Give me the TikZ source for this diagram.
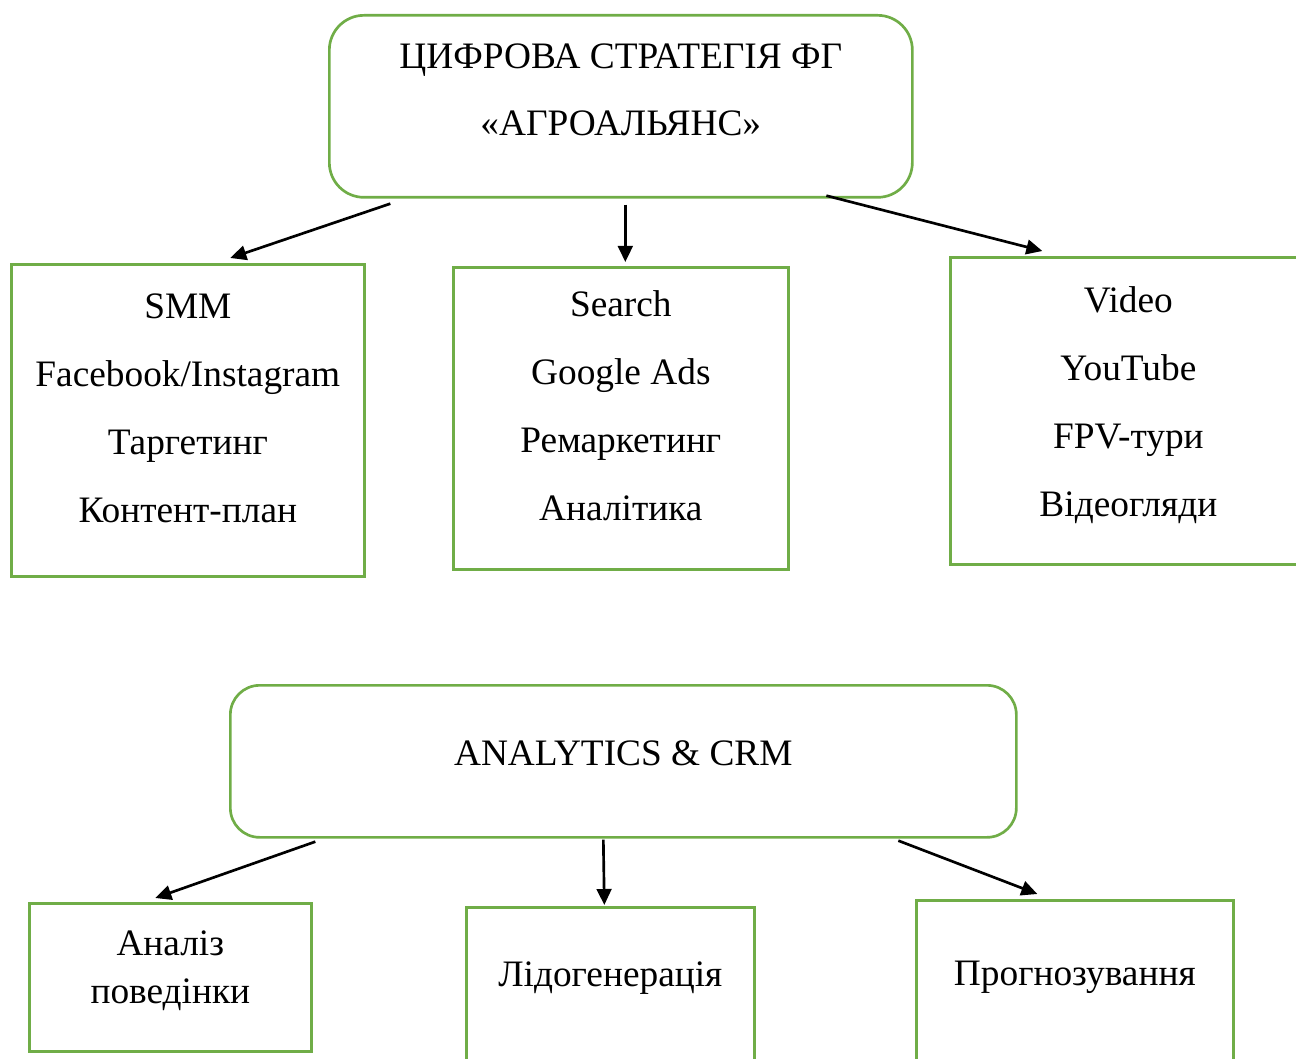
\documentclass[tikz,border=0pt]{standalone}
\usepackage{fontspec}
\setmainfont{Liberation Serif}
\usepackage{xcolor}
\usepackage{tikz}
\usetikzlibrary{positioning, arrows.meta}

\definecolor{boxgreen}{HTML}{70AD47}
\newcommand{\boxlines}[1]{\begin{tabular}[t]{@{}c@{}}#1\end{tabular}}

\tikzset{
	box/.style={draw=boxgreen, line width=2pt, inner sep=0pt, anchor=north west, font=\fontsize{28}{51}\selectfont},
	roundbox/.style={box, rounded corners=26pt},
	link/.style={-{Triangle[length=12pt, width=11pt]}, line width=2pt},
}

\begin{document}
\begin{tikzpicture}[x=0.75pt, y=-0.75pt]
	\useasboundingbox (0,0) rectangle (1296,1059);
	% Strategy and channels
	\node[roundbox, minimum width=437.25pt, text height=39.75pt, text depth=96.75pt, font=\fontsize{28}{50.25}\selectfont] (strat) at (328,14) {\boxlines{ЦИФРОВА СТРАТЕГІЯ ФГ\\«АГРОАЛЬЯНС»}};
	\node[box, minimum width=264.75pt, text height=40.5pt, text depth=193.5pt] (smm) at (10,263) {\boxlines{SMM\\Facebook/Instagram\\Таргетинг\\Контент-план}};
	\node[box, minimum width=251.25pt, text height=36.75pt, text depth=189.75pt] (search) at (452,266) {\boxlines{Search\\Google Ads\\Ремаркетинг\\Аналітика}};
	\node[box, minimum width=267pt, text height=41.25pt, text depth=189pt] (video) at (949,256) {\boxlines{Video\\YouTube\\FPV-тури\\Відеогляди}};
	
	% Analytics and its tasks
	\node[roundbox, rounded corners=22pt, minimum width=589.5pt, text height=60pt, text depth=54pt] (crm) at (229,684) {ANALYTICS \& CRM};
	\node[box, minimum width=211.5pt, text height=39pt, text depth=72pt, font=\fontsize{28}{36}\selectfont] (behav) at (28,902) {\boxlines{Аналіз\\поведінки}};
	\node[box, minimum width=216pt, text height=59.25pt, text depth=66.75pt] (leads) at (465,906) {Лідогенерація};
	\node[box, minimum width=237.75pt, text height=63.75pt, text depth=67.5pt] (forecast) at (915,899) {Прогнозування};
	
	% Connections
	\draw[link] ([shift={(-230.5,5)}]strat.south) -- ([shift={(42.5,-5)}]smm.north);
	\draw[link] ([shift={(4.5,6)}]strat.south) -- ([shift={(4.5,-4)}]search.north);
	\draw[link] ([shift={(205.5,-3)}]strat.south) -- ([shift={(-86,-5)}]video.north);
	\draw[link] ([shift={(-308,3)}]crm.south) -- ([shift={(-15,-4)}]behav.north);
	\draw[link] ([shift={(-20,1)}]crm.south) -- ([shift={(-6,-1)}]leads.north);
	\draw[link] ([shift={(275,2)}]crm.south) -- ([shift={(-37.5,-5)}]forecast.north);
\end{tikzpicture}
\end{document}
